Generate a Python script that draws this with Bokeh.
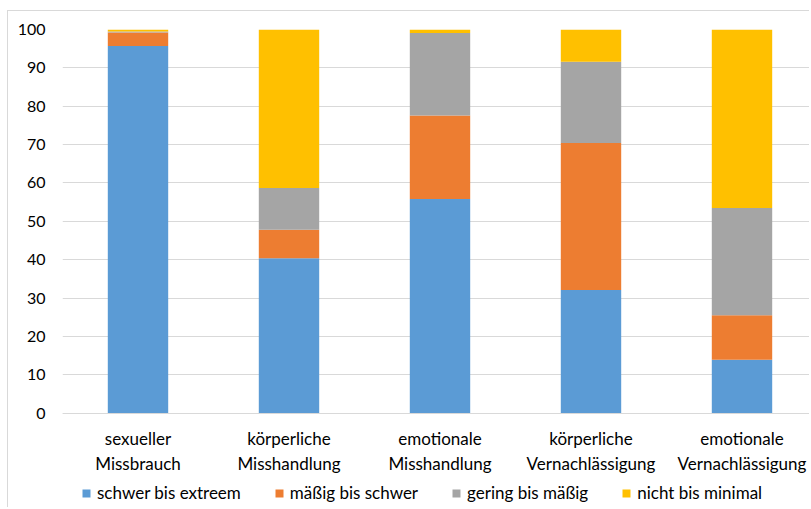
from bokeh.plotting import figure
from bokeh.models import ColumnDataSource, Range1d, FixedTicker, Legend, LegendItem
from bokeh.embed import file_html
from bokeh.resources import INLINE

categories = ["sexueller\nMissbrauch", "körperliche\nMisshandlung", "emotionale\nMisshandlung",
              "körperliche\nVernachlässigung", "emotionale\nVernachlässigung"]
series = ["schwer bis extreem", "mäßig bis schwer", "gering bis mäßig", "nicht bis minimal"]
schwer = [95.7, 40.4, 55.8, 32.1, 13.9]
maessig = [3.5, 7.4, 21.8, 38.3, 11.6]
gering = [0.3, 10.9, 21.5, 21.2, 28.0]
nicht = [0.5, 41.3, 0.9, 8.4, 46.5]
colors = ["#5B9BD5", "#ED7D31", "#A5A5A5", "#FFC000"]
y_ticks = [0, 10, 20, 30, 40, 50, 60, 70, 80, 90, 100]

FONT = "Lato"
xpos = [i + 0.5 for i in range(len(categories))]
src = ColumnDataSource(data={"x": xpos, "s0": schwer, "s1": maessig, "s2": gering, "s3": nicht})

W, H = 802, 497
LEFT, TOP = 54, 18
PX_PER_UNIT = 3.837
frame_h = H - TOP
p = figure(width=W, height=H, output_backend="svg", toolbar_location=None,
           x_range=Range1d(0, (W - LEFT) / 151.0),
           y_range=Range1d(100 - frame_h / PX_PER_UNIT, 100),
           min_border_left=LEFT, min_border_top=TOP, min_border_right=0, min_border_bottom=0)
p.margin = (10, 0, 0, 7)
p.styles = {"border-top": "1px solid #d9d9d9", "border-left": "1px solid #d9d9d9"}
p.outline_line_color = None

rs = p.vbar_stack(["s0", "s1", "s2", "s3"], x="x", width=0.4, source=src,
                  color=colors, line_color=None)

p.xgrid.grid_line_color = None
p.ygrid.grid_line_color = "#d9d9d9"
p.ygrid.grid_line_width = 1
p.ygrid.ticker = FixedTicker(ticks=y_ticks)

p.yaxis.ticker = FixedTicker(ticks=y_ticks)
p.yaxis.axis_line_color = None
p.yaxis.major_tick_line_color = None
p.yaxis.minor_tick_line_color = None
p.yaxis.major_tick_out = 0
p.yaxis.major_label_standoff = 17
p.yaxis.major_label_text_font = FONT
p.yaxis.major_label_text_font_size = "16px"
p.yaxis.major_label_text_color = "#000000"

p.xaxis.fixed_location = 0
p.xaxis.ticker = FixedTicker(ticks=xpos)
p.xaxis.major_label_overrides = {x: c for x, c in zip(xpos, categories)}
p.xaxis.axis_line_color = "#d9d9d9"
p.xaxis.major_tick_line_color = None
p.xaxis.minor_tick_line_color = None
p.xaxis.major_tick_out = 0
p.xaxis.major_tick_in = 0
p.xaxis.major_label_standoff = 15
p.xaxis.major_label_text_font = FONT
p.xaxis.major_label_text_font_size = "17px"
p.xaxis.major_label_text_color = "#000000"

legend = Legend(items=[LegendItem(label=s, renderers=[r]) for s, r in zip(series, rs)],
                location=(19, 5), orientation="horizontal",
                glyph_width=10, glyph_height=10, label_standoff=6, spacing=33,
                padding=0, margin=0, border_line_color=None, background_fill_alpha=0,
                label_text_font=FONT, label_text_font_size="17px", label_text_color="#000000")
p.add_layout(legend)

open("out.html", "w").write(file_html(p, INLINE))
